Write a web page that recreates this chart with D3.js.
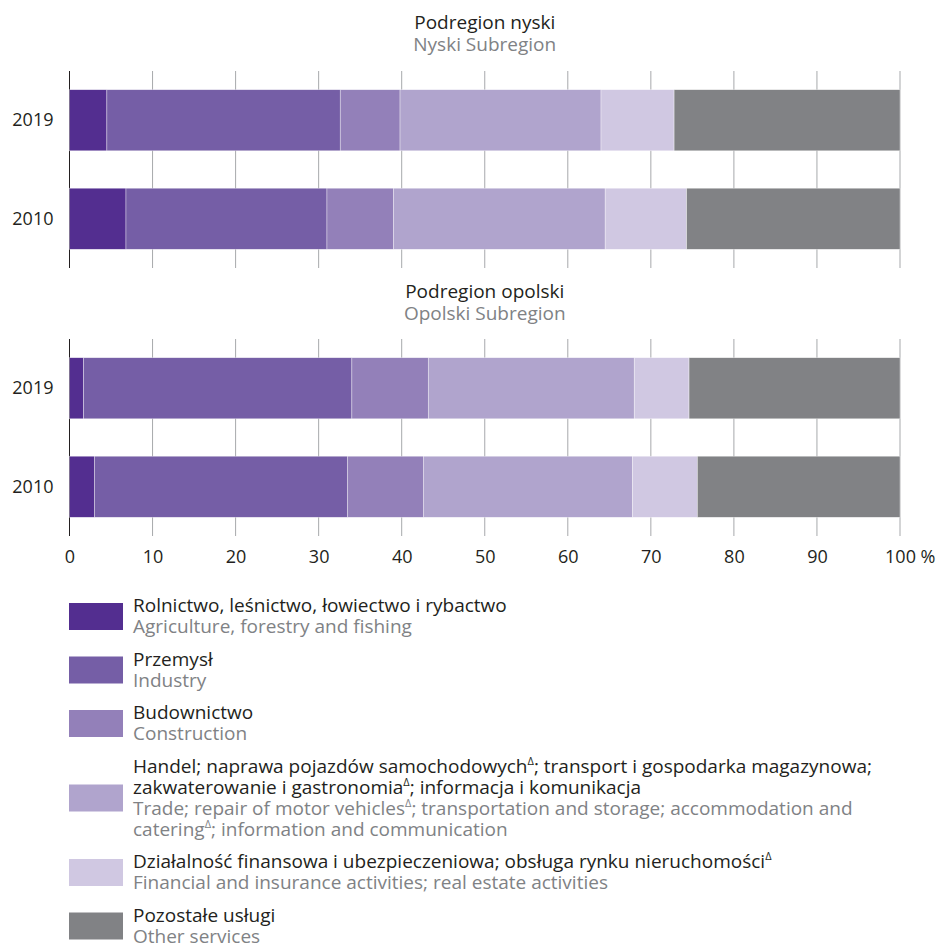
<!DOCTYPE html>
<html>
<head>
<meta charset="utf-8">
<script src="https://cdn.jsdelivr.net/npm/d3@7"></script>
<style>
  html, body { margin: 0; padding: 0; background: #fff; }
  svg { display: block; font-family: "Open Sans", "Noto Sans", sans-serif; }
</style>
</head>
<body>
<svg id="chart" width="936" height="944"></svg>
<script>
// ---- DATA ----
const years = ["2019", "2010"];
const seriesKeys = ["agri", "industry", "construction", "trade", "finance", "other"];
const seriesColors = ["#532e90", "#755ea6", "#9380b9", "#b0a4cd", "#d0c8e2", "#818285"];

const nyski2019 = [4.5, 28.1, 7.2, 24.2, 8.8, 27.2];
const nyski2010 = [6.8, 24.2, 8.0, 25.5, 9.8, 25.7];
const opolski2019 = [1.7, 32.3, 9.2, 24.8, 6.6, 25.4];
const opolski2010 = [3.0, 30.5, 9.1, 25.2, 7.8, 24.4];

const panelTitlesPL = ["Podregion nyski", "Podregion opolski"];
const panelTitlesEN = ["Nyski Subregion", "Opolski Subregion"];

const xTicks = [0, 10, 20, 30, 40, 50, 60, 70, 80, 90, 100];

const legendPL = [
  ["Rolnictwo, leśnictwo, łowiectwo i rybactwo"],
  ["Przemysł"],
  ["Budownictwo"],
  ["Handel; naprawa pojazdów samochodowych{Δ}; transport i gospodarka magazynowa;",
   "zakwaterowanie i gastronomia{Δ}; informacja i komunikacja"],
  ["Działalność finansowa i ubezpieczeniowa; obsługa rynku nieruchomości{Δ}"],
  ["Pozostałe usługi"]
];
const legendEN = [
  ["Agriculture, forestry and fishing"],
  ["Industry"],
  ["Construction"],
  ["Trade; repair of motor vehicles{Δ}; transportation and storage; accommodation and",
   "catering{Δ}; information and communication"],
  ["Financial and insurance activities; real estate activities"],
  ["Other services"]
];

// ---- LAYOUT ----
const svg = d3.select("#chart");
const x0 = 69.5, x1 = 900;
const x = d3.scaleLinear().domain([0, 100]).range([x0, x1]);
const axisFont = 18;
const textFont = 19;
const darkText = "#231f20";
const greyText = "#808285";

const panels = [
  { top: 71, bottom: 268, rows: [nyski2019, nyski2010], titleY: 29, subY: 51 },
  { top: 339, bottom: 536, rows: [opolski2019, opolski2010], titleY: 298, subY: 320 }
];

const stack = d3.stack().keys(seriesKeys);

panels.forEach((p, pi) => {
  const g = svg.append("g");
  const y = d3.scaleBand().domain(years).range([p.top, p.bottom])
    .paddingInner(0.38).paddingOuter(0.19);

  // titles
  g.append("text").attr("x", (x0 + x1) / 2).attr("y", p.titleY)
    .attr("text-anchor", "middle").attr("font-size", textFont).attr("fill", darkText)
    .text(panelTitlesPL[pi]);
  g.append("text").attr("x", (x0 + x1) / 2).attr("y", p.subY)
    .attr("text-anchor", "middle").attr("font-size", textFont).attr("fill", greyText)
    .text(panelTitlesEN[pi]);

  // gridlines
  g.selectAll("line.grid").data(xTicks).enter().append("line")
    .attr("x1", d => x(d)).attr("x2", d => x(d))
    .attr("y1", p.top).attr("y2", p.bottom)
    .attr("stroke", d => d === 0 ? "#231f20" : "#a7a9ac")
    .attr("stroke-width", 1);

  // bars
  const rows = years.map((yr, i) => {
    const o = { year: yr };
    seriesKeys.forEach((k, j) => o[k] = p.rows[i][j]);
    return o;
  });
  const stacked = stack(rows);
  stacked.forEach((layer, li) => {
    g.selectAll(null).data(layer).enter().append("rect")
      .attr("x", d => x(d[0]))
      .attr("width", d => x(d[1]) - x(d[0]))
      .attr("y", d => y(d.data.year))
      .attr("height", y.bandwidth())
      .attr("fill", seriesColors[li])
      .attr("stroke", "#ffffff").attr("stroke-opacity", 0.6).attr("stroke-width", 0.6);
  });

  // year labels
  const yAxis = d3.axisLeft(y).tickSize(0).tickPadding(16);
  const ya = g.append("g").attr("transform", `translate(${x0},0)`).call(yAxis);
  ya.select(".domain").remove();
  ya.selectAll("text").attr("font-size", axisFont).attr("fill", darkText)
    .attr("font-family", "Open Sans, sans-serif");

  if (pi === 1) {
    const xAxis = d3.axisBottom(x).tickValues(xTicks).tickSize(0).tickPadding(14)
      .tickFormat(d => d3.format("d")(d));
    const xa = g.append("g").attr("transform", `translate(0,${p.bottom})`).call(xAxis);
    xa.select(".domain").remove();
    xa.selectAll("text").attr("font-size", axisFont).attr("fill", darkText)
      .attr("font-family", "Open Sans, sans-serif");
    // append % after 100
    xa.selectAll(".tick").filter(d => d === 100).each(function () {
      const t = d3.select(this).select("text");
      const w = t.node().getComputedTextLength();
      t.attr("text-anchor", "start").attr("x", -w / 2).text("100 %");
    });
  }
});

// ---- LEGEND ----
const lineH = 21;
const gap = 11.5;
let cy = 612; // baseline of first line
const legend = svg.append("g");

function addRich(textSel, str) {
  const parts = str.split("{Δ}");
  parts.forEach((part, i) => {
    if (i > 0) {
      textSel.append("tspan").attr("font-size", 11).attr("dy", -8).text("Δ");
      if (part.length) textSel.append("tspan").attr("dy", 8).text(part);
    } else if (part.length) {
      textSel.append("tspan").text(part);
    }
  });
}

legendPL.forEach((plLines, i) => {
  const lines = plLines.map(s => ({ s, c: darkText })).concat(legendEN[i].map(s => ({ s, c: greyText })));
  const firstBase = cy;
  lines.forEach((ln, k) => {
    const t = legend.append("text").attr("x", 133).attr("y", cy + k * lineH)
      .attr("font-size", textFont).attr("fill", ln.c);
    addRich(t, ln.s);
  });
  const lastBase = cy + (lines.length - 1) * lineH;
  const mid = (firstBase + lastBase) / 2 - 6;
  legend.append("rect").attr("x", 69).attr("y", mid - 13.5)
    .attr("width", 54).attr("height", 27).attr("fill", seriesColors[i]);
  cy = lastBase + lineH + gap;
});
</script>
</body>
</html>
